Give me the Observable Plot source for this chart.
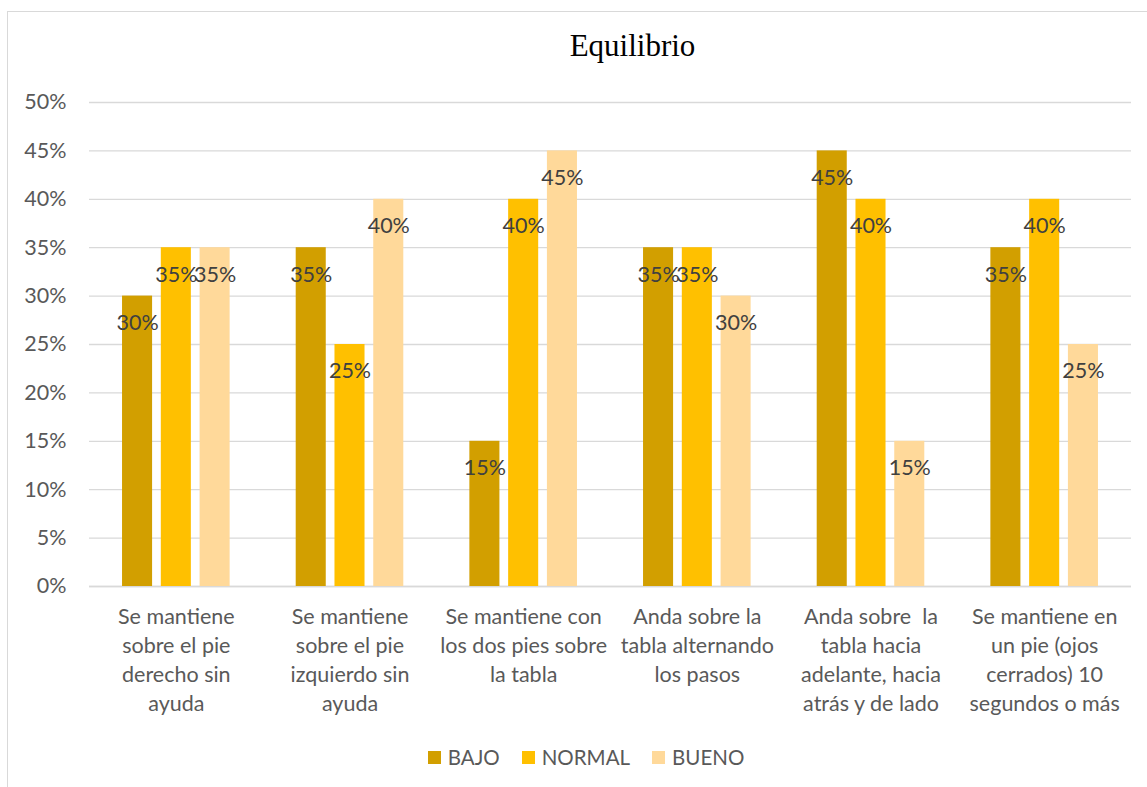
<!DOCTYPE html>
<html>
<head>
<meta charset="utf-8">
<script src="https://cdn.jsdelivr.net/npm/d3@7"></script>
<script src="https://cdn.jsdelivr.net/npm/@observablehq/plot@0.6"></script>
<style>
  html, body { margin: 0; padding: 0; background: #fff; overflow: hidden; }
  #wrap { position: relative; width: 1147px; height: 787px; overflow: hidden; font-family: Lato, "Open Sans", sans-serif; }
  #frame { position: absolute; left: 7px; top: 11px; width: 1300px; height: 900px; border: 1px solid #d9d9d9; box-sizing: border-box; }
  #title { position: absolute; left: 0; width: 1265px; top: 27px; text-align: center; font-family: "Liberation Serif", "DejaVu Serif", serif; font-size: 31px; line-height: 38px; color: #000; }
  #grid, #chart { position: absolute; left: 0; top: 0; }
  #legend { position: absolute; left: 0; width: 1172px; top: 745px; display: flex; justify-content: center; gap: 22px; font-size: 20.5px; color: #595959; }
  .li { display: flex; align-items: center; gap: 7px; }
  .sw { width: 13px; height: 13px; display: inline-block; }
</style>
</head>
<body>
<div id="wrap">
  <div id="frame"></div>
  <div id="title">Equilibrio</div>
  <div id="grid"></div>
  <div id="chart"></div>
  <div id="legend"></div>
</div>
<script>
const categories = [
  "Se mantiene\nsobre el pie\nderecho sin\nayuda",
  "Se mantiene\nsobre el pie\nizquierdo sin\nayuda",
  "Se mantiene con\nlos dos pies sobre\nla tabla",
  "Anda sobre la\ntabla alternando\nlos pasos",
  "Anda sobre  la\ntabla hacia\nadelante, hacia\natrás y de lado",
  "Se mantiene en\nun pie (ojos\ncerrados) 10\nsegundos o más"
];
const seriesNames = ["BAJO", "NORMAL", "BUENO"];
const bajo   = [30, 35, 15, 35, 45, 35];
const normal = [35, 25, 40, 35, 40, 40];
const bueno  = [35, 40, 45, 30, 15, 25];
const colors = ["#D29F00", "#FFC000", "#FFD99A"];
const yTicks = [0, 5, 10, 15, 20, 25, 30, 35, 40, 45, 50];

const seriesValues = [bajo, normal, bueno];
const data = [];
categories.forEach((c, i) => {
  seriesNames.forEach((s, j) => {
    data.push({category: c, series: s, value: seriesValues[j][i]});
  });
});

const FONT = "Lato, 'Open Sans', sans-serif";
const common = {
  width: 1147,
  height: 787,
  marginLeft: 89,
  marginRight: 16,
  marginTop: 102,
  marginBottom: 201,
  style: {fontFamily: FONT, background: "transparent"}
};

// Background layer: continuous gridlines and y axis
const gridPlot = Plot.plot({
  ...common,
  x: {domain: [0, 1], axis: null},
  y: {domain: [0, 50], label: null},
  marks: [
    Plot.gridY(yTicks, {stroke: "#d9d9d9", strokeOpacity: 1, strokeWidth: 1.3}),
    Plot.ruleY([0], {stroke: "#d9d9d9", strokeWidth: 1.5}),
    Plot.axisY(yTicks, {
      tickSize: 0, tickPadding: 23, fontSize: 21.5, fill: "#595959",
      tickFormat: d => d + "%", label: null
    })
  ]
});
document.getElementById("grid").appendChild(gridPlot);

// Foreground layer: grouped bars, labels and category axis
const plot = Plot.plot({
  ...common,
  fx: {domain: categories, paddingInner: 0.28, paddingOuter: 0.14, round: false, label: null},
  x: {domain: seriesNames, padding: 0.225, round: false, axis: null},
  y: {domain: [0, 50], axis: null},
  color: {domain: seriesNames, range: colors},
  marks: [
    Plot.barY(data, {fx: "category", x: "series", y: "value", fill: "series"}),
    Plot.text(data, {
      fx: "category", x: "series", y: "value", text: d => d.value + "%",
      dy: 27, fontSize: 21.5, fill: "#404040"
    }),
    Plot.axisFx({
      anchor: "bottom", tickSize: 0, tickPadding: 17, fontSize: 21.5, fill: "#595959",
      lineHeight: 1.35, label: null, textAnchor: "middle"
    })
  ]
});
document.getElementById("chart").appendChild(plot);

const legend = document.getElementById("legend");
seriesNames.forEach((s, i) => {
  const it = document.createElement("div");
  it.className = "li";
  const sw = document.createElement("span");
  sw.className = "sw";
  sw.style.background = colors[i];
  const t = document.createElement("span");
  t.textContent = s;
  it.appendChild(sw); it.appendChild(t);
  legend.appendChild(it);
});
</script>
</body>
</html>
